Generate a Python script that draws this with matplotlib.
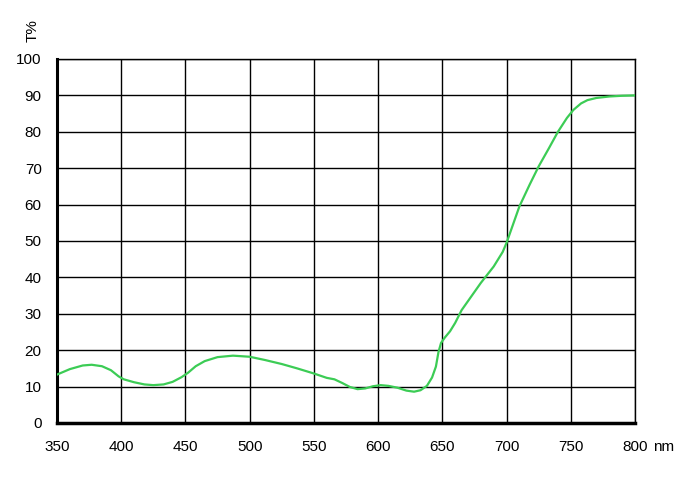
import matplotlib
matplotlib.use("Agg")
import matplotlib.pyplot as plt

wavelength = [350, 360, 370, 377, 385, 392, 398, 402, 410, 418, 425, 433, 440, 447, 452,
              458, 465, 475, 487, 500, 512, 525, 537, 550, 560, 566, 572, 578, 584, 590,
              596, 602, 608, 615, 622, 628, 633, 638, 642, 645, 647, 649, 652, 656, 660,
              665, 670, 680, 690, 697, 700, 705, 710, 718, 725, 733, 740, 747, 752, 758,
              763, 770, 780, 790, 800]
transmission = [13.3, 14.8, 15.8, 16.0, 15.6, 14.5, 12.8, 12.0, 11.2, 10.6, 10.4, 10.6, 11.3, 12.6, 13.8,
                15.6, 17.0, 18.1, 18.5, 18.2, 17.3, 16.2, 15.0, 13.6, 12.4, 12.0, 11.0, 9.9, 9.3, 9.5,
                10.1, 10.4, 10.2, 9.7, 8.9, 8.6, 9.0, 10.2, 12.5, 15.5, 19.5, 22.0, 23.5, 25.2, 27.5,
                31.0, 33.5, 38.5, 43.0, 47.0, 49.5, 54.5, 59.5, 65.5, 70.5, 75.5, 80.0, 83.8, 86.0, 87.8,
                88.7, 89.3, 89.7, 89.9, 90.0]
x_ticks = [350, 400, 450, 500, 550, 600, 650, 700, 750, 800]
y_ticks = [0, 10, 20, 30, 40, 50, 60, 70, 80, 90, 100]

plt.rcParams['font.family'] = ['Liberation Sans', 'DejaVu Sans']

fig = plt.figure(figsize=(7.0, 4.97), dpi=100)
ax = fig.add_axes([57/700, 74/497, 578/700, 364/497])

ax.plot(wavelength, transmission, color='#3ccc55', lw=1.6, zorder=3)

ax.set_xlim(350, 800)
ax.set_ylim(0, 100)
ax.set_xticks(x_ticks)
ax.set_yticks(y_ticks)
ax.set_xticklabels([str(v) for v in x_ticks])
ax.grid(True, color='black', lw=1.0)
ax.tick_params(length=0, labelsize=11, colors='black')
ax.tick_params(axis='x', pad=12)
ax.tick_params(axis='y', pad=11)

for s in ['top', 'right']:
    ax.spines[s].set_linewidth(1.0)
ax.spines['left'].set_linewidth(2.2)
ax.spines['bottom'].set_linewidth(2.5)

ax.annotate('nm', xy=(1, 0), xycoords='axes fraction', xytext=(13, -17),
            textcoords='offset points', ha='left', va='center', fontsize=11)
fig.text(33/700, 1 - 31/497, 'T%', rotation=90, ha='center', va='center', fontsize=11)

fig.savefig('out.png', dpi=100)
